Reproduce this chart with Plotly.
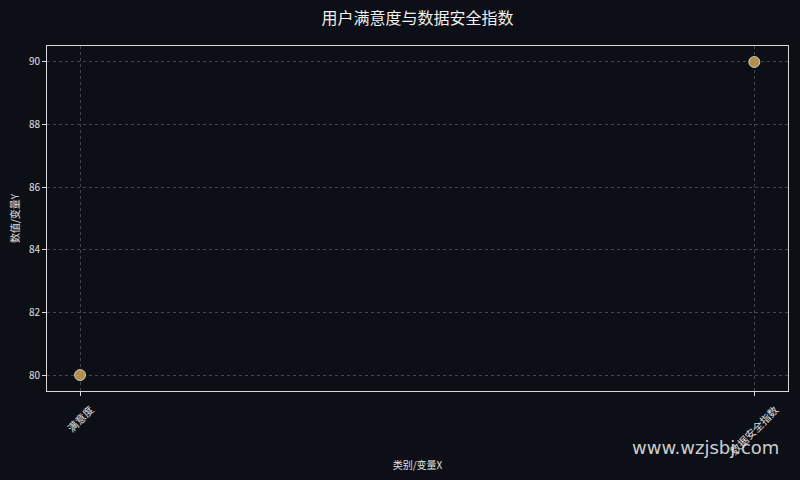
import plotly.graph_objects as go

categories = ["满意度", "数据安全指数"]
values = [80, 90]
y_ticks = [80, 82, 84, 86, 88, 90]

font_family = "Noto Sans CJK SC, Noto Sans, sans-serif"
bg = "#0c0f16"
txt = "#e0e0e0"

fig = go.Figure()
fig.add_trace(go.Scatter(
    x=categories, y=values, mode="markers",
    marker=dict(size=11, color="rgba(214,170,86,0.82)",
                line=dict(color="rgba(240,240,240,0.75)", width=1)),
    showlegend=False,
))

axis_common = dict(
    showline=True, linecolor="#d8d8d8", linewidth=1, mirror=True,
    showgrid=True, gridcolor="rgba(150,150,150,0.4)", griddash="3px,3px", gridwidth=1,
    ticks="outside", tickcolor="#d8d8d8", ticklen=4,
    tickfont=dict(size=10, color=txt, family=font_family),
    zeroline=False, automargin=False,
)

# category labels drawn centred under their ticks, rotated 45°
cat_labels = [dict(text=c, x=c, xref="x", y=-0.022, yref="paper", textangle=-45,
                   xanchor="center", yanchor="top", showarrow=False,
                   font=dict(size=10.5, color=txt, family=font_family))
              for c in categories]

fig.update_layout(
    width=800, height=480,
    paper_bgcolor=bg, plot_bgcolor=bg,
    margin=dict(l=47, r=12, t=46, b=89),
    title=dict(text="用户满意度与数据安全指数", x=0.5, xref="paper", xanchor="center", y=0.962, yanchor="middle",
               font=dict(size=16, color="#f0f0f0", family=font_family)),
    xaxis=dict(**axis_common, type="category", range=[-0.049, 1.05], showticklabels=False,
               title=dict(text="类别/变量X", font=dict(size=10, color=txt, family=font_family), standoff=66)),
    yaxis=dict(**axis_common, range=[79.49, 90.51], tickvals=y_ticks,
               title=dict(text="数值/变量Y", font=dict(size=10, color=txt, family=font_family), standoff=7)),
    annotations=cat_labels + [dict(text="www.wzjsbj.com", xref="paper", yref="paper", x=0.9906, y=-0.165,
                      xanchor="right", yanchor="middle", showarrow=False,
                      font=dict(size=18, color="rgba(230,230,230,0.9)", family="DejaVu Sans, sans-serif"))],
)

fig.write_html("out.html", config={"displayModeBar": False},
               post_script="document.body.style.margin='0';document.body.style.background='#0c0f16';")
